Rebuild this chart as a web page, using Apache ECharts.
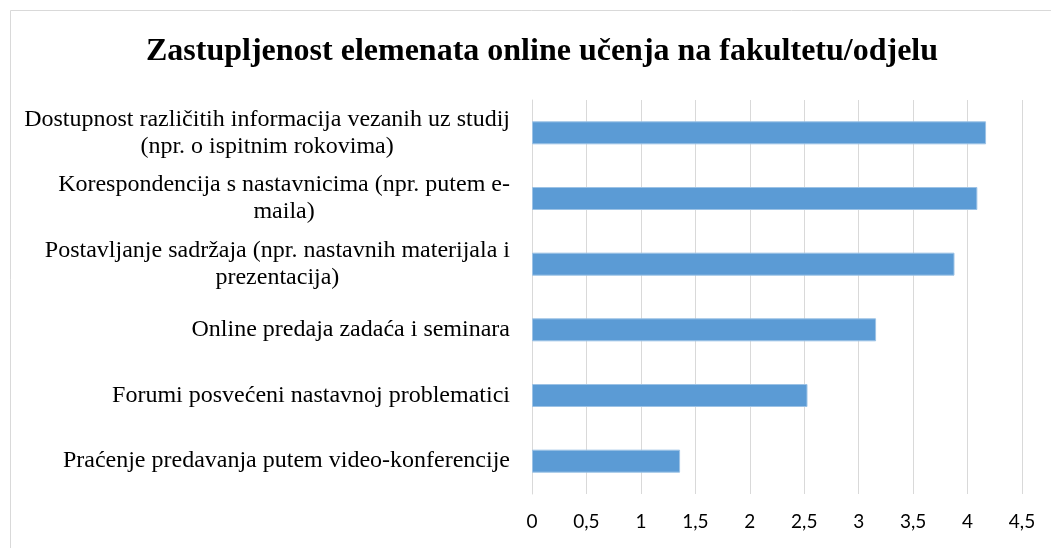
<!DOCTYPE html>
<html>
<head>
<meta charset="utf-8">
<script src="https://cdn.jsdelivr.net/npm/echarts@6/dist/echarts.min.js"></script>
<style>
  html, body { margin: 0; padding: 0; background: #fff; }
  #chart { width: 1051px; height: 548px; }
</style>
</head>
<body>
<div id="chart"></div>
<script>
// kategorije (odozgo prema dolje), vrijednosti očitane sa slike
var categories = [
  'Dostupnost različitih informacija vezanih uz studij\n(npr. o ispitnim rokovima)',
  'Korespondencija s nastavnicima (npr. putem e-\nmaila)',
  'Postavljanje sadržaja (npr. nastavnih materijala i\nprezentacija)',
  'Online predaja zadaća i seminara',
  'Forumi posvećeni nastavnoj problematici',
  'Praćenje predavanja putem video-konferencije'
]
var values = [4.17, 4.09, 3.88, 3.16, 2.53, 1.36]
var titleText = 'Zastupljenost elemenata online učenja na fakultetu/odjelu'

var myChart = echarts.init(document.getElementById('chart'))

var option = {
  backgroundColor: '#fff',
  animation: false,
  title: {
    text: titleText,
    left: 141,
    top: 31,
    textStyle: {
      fontFamily: 'Liberation Serif',
      fontWeight: 'bold',
      fontSize: 32,
      color: '#000'
    }
  },
  graphic: [{
    type: 'rect',
    shape: { x: 10.5, y: 10.5, width: 1060, height: 560 },
    style: { fill: 'none', stroke: '#d9d9d9', lineWidth: 1 },
    silent: true
  }],
  grid: {
    left: 532,
    right: 29,
    top: 100,
    bottom: 54
  },
  xAxis: {
    type: 'value',
    min: 0,
    max: 4.5,
    interval: 0.5,
    axisLine: { show: false },
    axisTick: { show: false },
    splitLine: { show: true, lineStyle: { color: '#d9d9d9', width: 1 } },
    axisLabel: {
      margin: 18,
      fontFamily: 'Lato',
      fontSize: 19,
      color: '#000',
      formatter: function (v) { return String(v).replace('.', ',') }
    }
  },
  yAxis: {
    type: 'category',
    inverse: true,
    data: categories,
    axisLine: { show: true, lineStyle: { color: '#d9d9d9', width: 1 } },
    axisTick: { show: false },
    axisLabel: {
      margin: 22,
      formatter: function (v) {
        return v.split('\n').map(function (l) { return '{c|' + l + '}' }).join('\n')
      },
      rich: {
        c: {
          align: 'center',
          fontFamily: 'Liberation Serif',
          fontSize: 24,
          lineHeight: 27,
          color: '#000'
        }
      }
    }
  },
  series: [{
    type: 'bar',
    data: values,
    barWidth: 23,
    itemStyle: { color: '#5b9bd5', borderColor: '#9cc2e5', borderWidth: 1 }
  }]
}
myChart.setOption(option)
</script>
</body>
</html>
